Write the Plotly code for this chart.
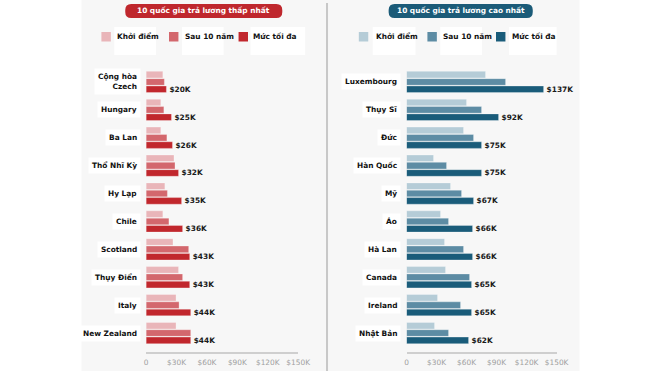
import plotly.graph_objects as go

W, H = 660, 371          # reference picture size (coordinates are read in it)
FIG_W = 670              # rendered width (page is shown slightly compressed horizontally)

# ---------------- data (thousand USD) ----------------
low_countries = ["Cộng hòa<br>Czech", "Hungary", "Ba Lan", "Thổ Nhĩ Kỳ", "Hy Lạp",
                 "Chile", "Scotland", "Thụy Điển", "Italy", "New Zealand"]
low_start = [16.5, 14.5, 14.5, 27.5, 18.5, 16.5, 26.5, 32, 29.5, 29.5]
low_10y = [18, 17.5, 20.5, 28.5, 21, 22.5, 42, 36, 32.5, 44]
low_max = [20, 25, 26, 32, 35, 36, 43, 43, 44, 44]

high_countries = ["Luxembourg", "Thụy Sĩ", "Đức", "Hàn Quốc", "Mỹ",
                  "Áo", "Hà Lan", "Canada", "Ireland", "Nhật Bản"]
high_start = [79, 60, 57, 27, 44, 34, 38, 39, 31, 28]
high_10y = [99, 75, 67, 40, 55, 42, 57, 63, 54, 42]
high_max = [137, 92, 75, 75, 67, 66, 66, 65, 65, 62]

series_names = ["Khởi điểm", "Sau 10 năm", "Mức tối đa"]
low_colors = ["#e9b5b9", "#d3676d", "#c1272d"]
high_colors = ["#b5ccd7", "#5d8ca4", "#1a5c7a"]

tick_vals = [0, 30, 60, 90, 120, 150]
tick_text = ["0", "$30K", "$60K", "$90K", "$120K", "$150K"]

titles = ["10 quốc gia trả lương thấp nhất", "10 quốc gia trả lương cao nhất"]


def px(x):
    return x / W


def py(y):
    return 1 - y / H


FONT = "DejaVu Sans"
FS = 7.4
fig = go.Figure()

panels = [
    (low_countries, [low_start, low_10y, low_max], low_colors, "x", "y"),
    (high_countries, [high_start, high_10y, high_max], high_colors, "x2", "y2"),
]
for cats, vals, cols, xa, ya in panels:
    for i, (name, v, c) in enumerate(zip(series_names, vals, cols)):
        is_max = i == 2
        fig.add_trace(go.Bar(
            y=cats, x=v, name=name, orientation="h",
            marker=dict(color=c, line=dict(color="rgba(255,255,255,0.6)", width=0.5)),
            text=[f"${val:g}K" for val in v] if is_max else None,
            textposition="outside" if is_max else "none",
            constraintext="none",
            textfont=dict(family=FONT, size=FS, color="#1a1a1a", weight="bold"),
            cliponaxis=False,
            xaxis=xa, yaxis=ya, showlegend=False,
            hovertemplate="%{y}: %{x}K<extra>" + name + "</extra>",
        ))

axis_common = dict(
    range=[0, 150], tickvals=tick_vals, ticktext=tick_text,
    showgrid=False, zeroline=False, showline=True, linecolor="#cfcfcf", linewidth=2,
    ticks="outside", ticklen=2, tickcolor="rgba(0,0,0,0)",
    tickfont=dict(family=FONT, size=FS, color="#a0a0a0"), fixedrange=True,
)
yaxis_common = dict(
    range=[9.68, -0.5], showticklabels=False, showgrid=False, zeroline=False,
    showline=False, ticks="", domain=[py(352), py(68)], fixedrange=True,
)

shapes = []
annotations = []

# gray panel background and separator
shapes.append(dict(type="rect", xref="paper", yref="paper", x0=px(80), x1=px(581),
                   y0=0, y1=1, fillcolor="#f7f7f7", line=dict(width=0), layer="below"))
shapes.append(dict(type="line", xref="paper", yref="paper", x0=px(327), x1=px(327),
                   y0=0, y1=py(3), line=dict(color="#c8c8c8", width=2)))


def rounded(x0, y0, x1, y1, r):
    X0, X1 = px(x0), px(x1)
    Y0, Y1 = py(y1), py(y0)
    rx, ry = r / W, r / H
    return (f"M{X0 + rx},{Y0} L{X1 - rx},{Y0} Q{X1},{Y0} {X1},{Y0 + ry} "
            f"L{X1},{Y1 - ry} Q{X1},{Y1} {X1 - rx},{Y1} L{X0 + rx},{Y1} "
            f"Q{X0},{Y1} {X0},{Y1 - ry} L{X0},{Y0 + ry} Q{X0},{Y0} {X0 + rx},{Y0} Z")


badges = [(124, 282, "#bf272d", titles[0]), (389, 534, "#1b5b78", titles[1])]
for x0, x1, col, t in badges:
    shapes.append(dict(type="path", xref="paper", yref="paper",
                       path=rounded(x0, 4, x1, 18, 6), fillcolor=col, line=dict(width=0)))
    annotations.append(dict(xref="paper", yref="paper", x=px((x0 + x1) / 2), y=py(11),
                            text=t, showarrow=False, xanchor="center", yanchor="middle",
                            font=dict(family=FONT, size=FS, color="white", weight="bold")))

# manual legends
legend_defs = [
    (low_colors, [100, 168, 238], [(113, 155), (181, 223), (250, 305)]),
    (high_colors, [359, 428, 497], [(373, 416), (441, 483), (510, 558)]),
]
for cols, sq_x, boxes in legend_defs:
    for name, c, sx, (bx0, bx1) in zip(series_names, cols, sq_x, boxes):
        shapes.append(dict(type="rect", xref="paper", yref="paper", x0=px(bx0), x1=px(bx1),
                           y0=py(55), y1=py(27), fillcolor="white", line=dict(width=0)))
        shapes.append(dict(type="rect", xref="paper", yref="paper", x0=px(sx), x1=px(sx + 9.5),
                           y0=py(41.5), y1=py(32), fillcolor=c, line=dict(width=0)))
        annotations.append(dict(xref="paper", yref="paper", x=px(bx0 + 1), y=py(37),
                                text=name, showarrow=False, xanchor="left", yanchor="middle",
                                font=dict(family=FONT, size=FS, color="#111", weight="bold")))

# category labels with white boxes
for cats, xr, yr in [(low_countries, 139.5, "y"), (high_countries, 401, "y2")]:
    for c in cats:
        annotations.append(dict(xref="paper", yref=yr, x=px(xr), y=c, text=c,
                                showarrow=False, xanchor="right", yanchor="middle", align="right",
                                bgcolor="white", borderpad=3,
                                font=dict(family=FONT, size=FS, color="#111", weight="bold")))

fig.update_layout(
    width=FIG_W, height=H, margin=dict(l=0, r=0, t=0, b=0),
    paper_bgcolor="white", plot_bgcolor="rgba(0,0,0,0)",
    barmode="group", bargap=0.21, bargroupgap=0.1,
    xaxis=dict(axis_common, domain=[px(145), px(298)], anchor="y"),
    yaxis=dict(yaxis_common, anchor="x"),
    xaxis2=dict(axis_common, domain=[px(407), px(558)], anchor="y2"),
    yaxis2=dict(yaxis_common, anchor="x2"),
    shapes=shapes, annotations=annotations,
    showlegend=False,
)

page_fix = (
    "var s=document.createElement('style');"
    "s.textContent='html,body{margin:0;padding:0;overflow:hidden;}';"
    "document.head.appendChild(s);"
)

fig.write_html(
    "out.html",
    config={"displayModeBar": False, "responsive": False},
    post_script=page_fix,
)
